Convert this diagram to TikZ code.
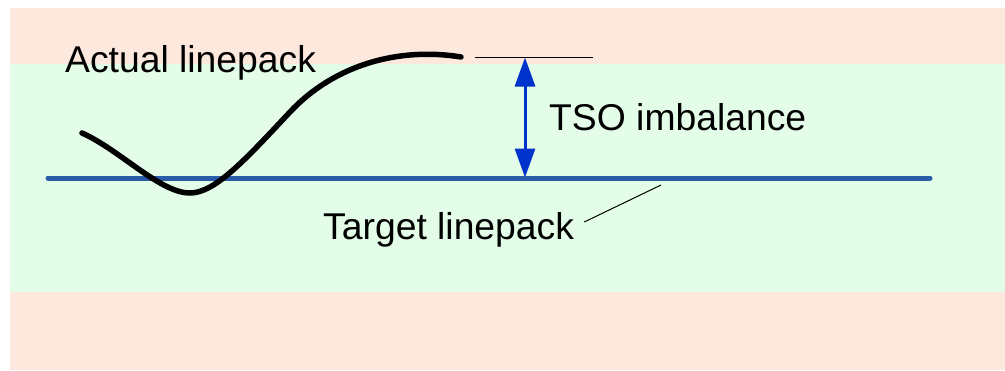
\documentclass[tikz,border=0pt]{standalone}
\usepackage{fontspec}
\setmainfont{Liberation Sans}
\usetikzlibrary{arrows.meta}
\definecolor{bandpink}{RGB}{253,232,222}
\definecolor{bandgreen}{RGB}{227,253,232}
\definecolor{targetblue}{RGB}{43,92,168}
\definecolor{arrowblue}{RGB}{0,51,204}
\begin{document}
\begin{tikzpicture}[x=1pt,y=-1pt,
  label/.style={inner sep=0pt,anchor=base west,font=\fontsize{37.3}{44}\selectfont},
  thinline/.style={black,line width=1pt},
  actual/.style={black,line width=5.5pt,line cap=round},
  target/.style={targetblue,line width=5pt,line cap=round},
  gap/.style={arrowblue,line width=3pt,{Triangle[length=29pt,width=20pt]}-{Triangle[length=29pt,width=20pt]}}]
  \useasboundingbox (0,0) rectangle (1005,370);
  % tolerance bands
  \fill[bandpink] (10,8) rectangle (1005,370);
  \fill[bandgreen] (10,64) rectangle (1005,292);
  % target level
  \coordinate (tl) at (48,178);
  \coordinate (tr) at (930,178);
  \draw[target] (tl) -- (tr);
  % actual linepack curve
  \coordinate (a0) at (82,133);
  \coordinate (a1) at (190,193);
  \coordinate (a2) at (290,112);
  \coordinate (a3) at (461,57);
  \draw[actual] (a0) .. controls (120,150) and (160,193) .. (a1)
                     .. controls (215,193) and (245,160) .. (a2)
                     .. controls (335,64) and (400,47) .. (a3);
  % imbalance marker
  \coordinate (r0) at (475,57);
  \coordinate (r1) at (593,57);
  \draw[thinline] (r0) -- (r1);
  \coordinate (up) at (525,57.5);
  \coordinate (dn) at (525,177.5);
  \draw[gap] (up) -- (dn);
  % labels
  \node[label] (actuallbl) at (65,72) {Actual linepack};
  \node[label] (tsolbl) at (549,130) {TSO imbalance};
  \node[label] (targetlbl) at (323,239) {Target linepack};
  \coordinate (lead) at (661,185);
  \draw[thinline] ([xshift=10pt,yshift=17pt]targetlbl.base east) -- (lead);
\end{tikzpicture}
\end{document}
